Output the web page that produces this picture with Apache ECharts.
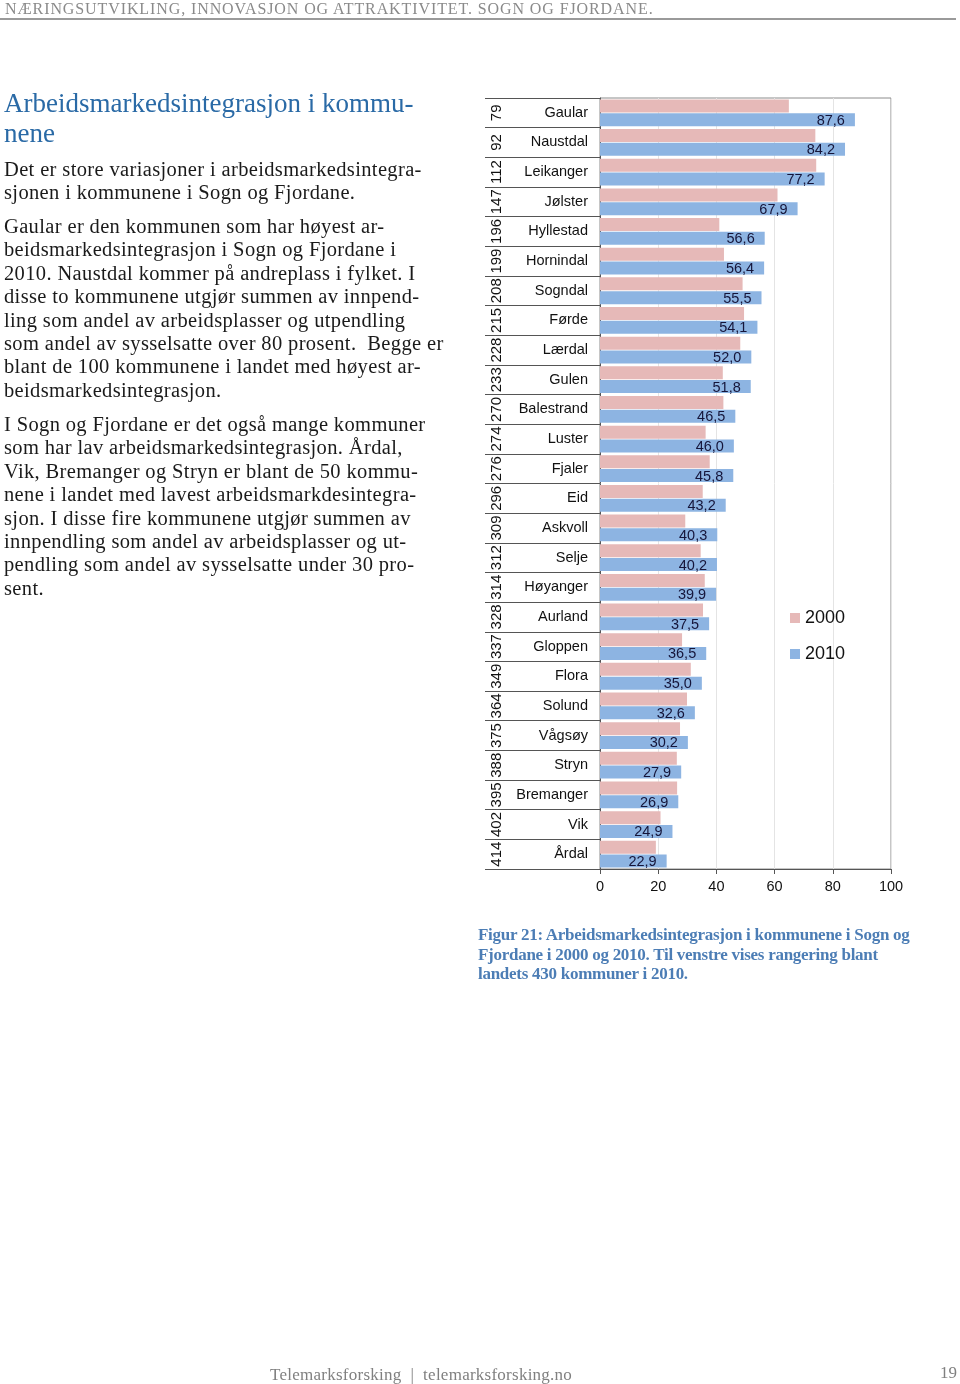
<!DOCTYPE html>
<html><head><meta charset="utf-8">
<script src="https://cdn.jsdelivr.net/npm/echarts@6/dist/echarts.min.js"></script>
<style>
html,body{margin:0;padding:0;background:#fff;}
#page{position:relative;width:960px;height:1384px;overflow:hidden;}
#chart{position:absolute;left:0;top:0;width:960px;height:1384px;}
.t{position:absolute;white-space:nowrap;font-family:"Liberation Serif","DejaVu Serif",serif;}
#hdr{left:5px;top:0px;font-size:16px;color:#8a8a8a;letter-spacing:0.9px;}
#hline{position:absolute;left:0;top:18px;width:956px;height:2px;background:#9a9a9a;}
#title{left:4px;top:88px;font-size:27px;line-height:30px;color:#2a6aa6;}
.body{left:4px;font-size:20.5px;line-height:23.4px;color:#1a1a1a;letter-spacing:0.36px;}
#cap{left:478px;top:925px;font-size:17px;line-height:19.6px;color:#4c7db5;font-weight:bold;letter-spacing:-0.27px;}
#foot{left:270px;top:1365px;font-size:17px;color:#808080;letter-spacing:0.25px;}
#pnum{left:940px;top:1363px;font-size:17px;color:#808080;}
</style></head>
<body><div id="page">
<div id="chart"></div>
<div class="t" id="hdr">NÆRINGSUTVIKLING, INNOVASJON OG ATTRAKTIVITET. SOGN OG FJORDANE.</div>
<div id="hline"></div>
<div class="t" id="title">Arbeidsmarkedsintegrasjon i kommu-<br>nene</div>
<div class="t body" style="top:158px">Det er store variasjoner i arbeidsmarkedsintegra-<br>sjonen i kommunene i Sogn og Fjordane.</div>
<div class="t body" style="top:215px">Gaular er den kommunen som har høyest ar-<br>beidsmarkedsintegrasjon i Sogn og Fjordane i<br>2010. Naustdal kommer på andreplass i fylket. I<br>disse to kommunene utgjør summen av innpend-<br>ling som andel av arbeidsplasser og utpendling<br>som andel av sysselsatte over 80 prosent.&nbsp; Begge er<br>blant de 100 kommunene i landet med høyest ar-<br>beidsmarkedsintegrasjon.</div>
<div class="t body" style="top:413px">I Sogn og Fjordane er det også mange kommuner<br>som har lav arbeidsmarkedsintegrasjon. Årdal,<br>Vik, Bremanger og Stryn er blant de 50 kommu-<br>nene i landet med lavest arbeidsmarkdesintegra-<br>sjon. I disse fire kommunene utgjør summen av<br>innpendling som andel av arbeidsplasser og ut-<br>pendling som andel av sysselsatte under 30 pro-<br>sent.</div>
<div class="t" id="cap">Figur 21: Arbeidsmarkedsintegrasjon i kommunene i Sogn og<br>Fjordane i 2000 og 2010. Til venstre vises rangering blant<br>landets 430 kommuner i 2010.</div>
<div class="t" id="foot">Telemarksforsking&nbsp; |&nbsp; telemarksforsking.no</div>
<div class="t" id="pnum">19</div>
</div>
<script>
const municipalities = ["Gaular","Naustdal","Leikanger","Jølster","Hyllestad","Hornindal","Sogndal","Førde","Lærdal","Gulen","Balestrand","Luster","Fjaler","Eid","Askvoll","Selje","Høyanger","Aurland","Gloppen","Flora","Solund","Vågsøy","Stryn","Bremanger","Vik","Årdal"];
const ranks = ["79","92","112","147","196","199","208","215","228","233","270","274","276","296","309","312","314","328","337","349","364","375","388","395","402","414"];
const values2000 = [64.9,74.0,74.3,61.0,41.0,42.6,49.0,49.5,48.2,42.2,42.4,36.3,37.7,35.3,29.3,34.6,36.0,35.4,28.2,31.2,29.9,27.5,26.4,26.5,20.8,19.2];
const values2010 = [87.6,84.2,77.2,67.9,56.6,56.4,55.5,54.1,52.0,51.8,46.5,46.0,45.8,43.2,40.3,40.2,39.9,37.5,36.5,35.0,32.6,30.2,27.9,26.9,24.9,22.9];
const xTicks = [0,20,40,60,80,100];

const chart = echarts.init(document.getElementById('chart'), null, {renderer:'canvas'});
const font = '"Liberation Sans", Arial, sans-serif';
chart.setOption({
  animation:false,
  textStyle:{fontFamily:font},
  grid:{left:600, top:98, width:291, height:771, show:true, borderColor:'#8c8c8c', borderWidth:1, backgroundColor:'transparent'},
  legend:{
    orient:'vertical', left:785, top:604, itemWidth:10, itemHeight:10, itemGap:18,
    icon:'rect', textStyle:{fontSize:18, color:'#111', fontFamily:font},
    data:['2000','2010']
  },
  xAxis:{
    type:'value', min:xTicks[0], max:xTicks[xTicks.length-1], interval:20,
    axisLine:{show:true, lineStyle:{color:'#555'}},
    axisTick:{show:true, length:5, lineStyle:{color:'#555'}},
    axisLabel:{fontSize:14.5, color:'#111', margin:10},
    splitLine:{show:true, lineStyle:{color:'#e4e4e4'}}
  },
  yAxis:[{
    type:'category', inverse:true, data:municipalities,
    axisLine:{show:true, lineStyle:{color:'#555'}},
    axisTick:{show:true, length:115, lineStyle:{color:'#555'}},
    axisLabel:{fontSize:14.5, color:'#111', margin:12, interval:0}
  },{
    type:'category', inverse:true, data:ranks, position:'left', offset:94,
    axisLine:{show:false}, axisTick:{show:false}, splitLine:{show:false},
    axisLabel:{fontSize:15, color:'#111', rotate:90, margin:2, interval:0}
  }],
  series:[{
    name:'2000', type:'bar', data:values2000, barWidth:13, barGap:'6%',
    itemStyle:{color:'#e6b9b8'}
  },{
    name:'2010', type:'bar', data:values2010, barWidth:13,
    itemStyle:{color:'#8db4e2'},
    label:{show:true, position:'insideRight', distance:10, fontSize:14.5, color:'#15153a',
      formatter:p=>p.value.toFixed(1).replace('.',','), offset:[0,1]}
  }]
});
</script>
</body></html>
